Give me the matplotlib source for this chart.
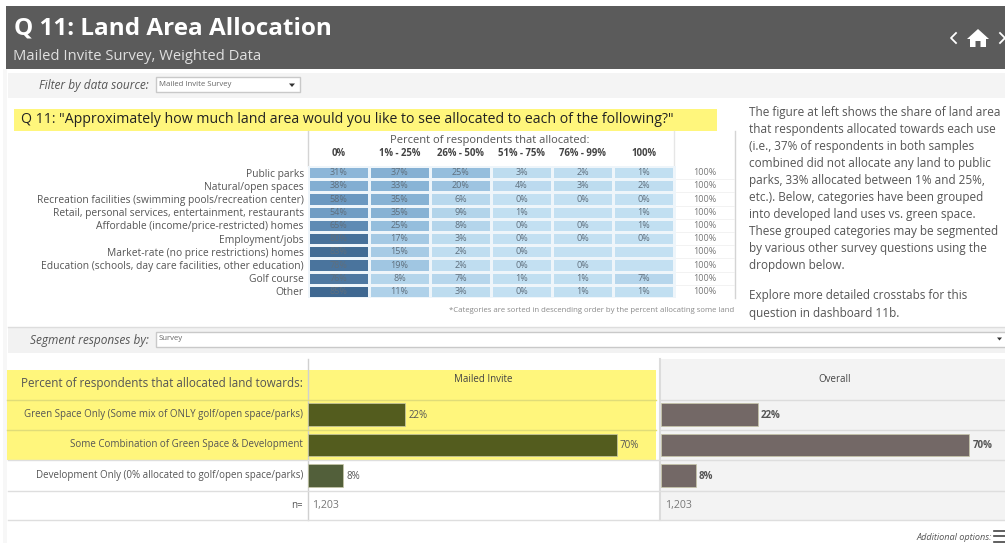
"""Q 11 land area allocation dashboard"""
import matplotlib
matplotlib.use("Agg")
import matplotlib.pyplot as plt
import numpy as np
from matplotlib.colors import LinearSegmentedColormap
from matplotlib.patches import Rectangle, Polygon

plt.rcParams["font.family"] = ["Open Sans", "DejaVu Sans"]

W, H = 1005, 543

# heatmap data
uses = [
    "Public parks",
    "Natural/open spaces",
    "Recreation facilities (swimming pools/recreation center)",
    "Retail, personal services, entertainment, restaurants",
    "Affordable (income/price-restricted) homes",
    "Employment/jobs",
    "Market-rate (no price restrictions) homes",
    "Education (schools, day care facilities, other education)",
    "Golf course",
    "Other",
]
bins = ["0%", "1% - 25%", "26% - 50%", "51% - 75%", "76% - 99%", "100%"]
pct_0 = [31, 38, 58, 54, 65, 80, 83, 78, 76, 85]
pct_1_25 = [37, 33, 35, 35, 25, 17, 15, 19, 8, 11]
pct_26_50 = [25, 20, 6, 9, 8, 3, 2, 2, 7, 3]
pct_51_75 = [3, 4, 0, 1, 0, 0, 0, 0, 1, 0]
pct_76_99 = [2, 3, 0, None, 0, 0, None, 0, 1, 1]
pct_100 = [1, 2, 0, 1, 1, 0, None, None, 7, 1]
totals = ["100%"] * 10

# bar data
groups = [
    "Green Space Only (Some mix of ONLY golf/open space/parks)",
    "Some Combination of Green Space & Development",
    "Development Only (0% allocated to golf/open space/parks)",
]
mailed = [22, 70, 8]
overall = [22, 70, 8]
mailed_n = "1,203"
overall_n = "1,203"

DARK = "#5b5b5b"
YELLOW = "#fff67c"
TEXT = "#555555"
RULE = "#e3e3e3"

fig = plt.figure(figsize=(W / 100, H / 100), dpi=100, facecolor="white")


def px_axes(x0, y0, x1, y1, **kw):
    # axes placed by pixel box, y measured from the top
    return fig.add_axes([x0 / W, 1 - y1 / H, (x1 - x0) / W, (y1 - y0) / H], **kw)


# page furniture
bg = px_axes(0, 0, W, H)
bg.set_xlim(0, W)
bg.set_ylim(H, 0)
bg.axis("off")

bg.add_patch(Rectangle((6, 6), W - 6, 63, color=DARK, lw=0))
bg.add_patch(Rectangle((3, 69), 4, H - 69, color="#f7f7f7", lw=0))
bg.add_patch(Rectangle((8, 73), W - 8, 25, color="#f4f4f4", lw=0))
bg.add_patch(Rectangle((8, 327), W - 8, 26, color="#f2f2f2", lw=0))
bg.plot([8, W], [327, 327], color="#dddddd", lw=1)
bg.text(14, 29, "Q 11: Land Area Allocation", color="white", fontsize=17.5,
        fontweight="bold", va="center")
bg.text(13, 56, "Mailed Invite Survey, Weighted Data", color="#e0e0e0", fontsize=10.6,
        va="center")

# nav icons
bg.plot([956, 951, 956], [33, 38, 43], color="white", lw=1.3)
bg.plot([1000, 1005], [33, 38], color="white", lw=1.3)
bg.plot([1000, 1005], [43, 38], color="white", lw=1.3)
bg.add_patch(Polygon([[967, 39], [978, 29], [989, 39], [986, 39], [986, 47], [980.5, 47],
                      [980.5, 41], [975.5, 41], [975.5, 47], [970, 47], [970, 39]],
                     color="white", lw=0))

# filter row
bg.text(149, 85.5, "Filter by data source:", fontsize=8.6, style="italic", color="#555555",
        ha="right", va="center")
bg.add_patch(Rectangle((155.5, 77), 144, 15, fc="white", ec="#c9c9c9", lw=1))
bg.text(159, 84.5, "Mailed Invite Survey", fontsize=5.6, color="#666666", va="center")
bg.add_patch(Polygon([[289, 83.5], [295, 83.5], [292, 87]], color="#333333", lw=0))

# question banner
bg.add_patch(Rectangle((14, 109), 703, 22, color=YELLOW, lw=0))
bg.text(21, 119.5, "Q 11: \"Approximately how much land area would you like to see allocated to each of the following?\"",
        fontsize=10.2, color="#222222", va="center")

# side note
note = ["The figure at left shows the share of land area",
        "that respondents allocated towards each use",
        "(i.e., 37% of respondents in both samples",
        "combined did not allocate any land to public",
        "parks, 33% allocated between 1% and 25%,",
        "etc.). Below, categories have been grouped",
        "into developed land uses vs. green space.",
        "These grouped categories may be segmented",
        "by various other survey questions using the",
        "dropdown below."]
for i, line in enumerate(note):
    bg.text(749, 112.5 + i * 17, line, fontsize=8.5, color=TEXT, va="center")
bg.text(749, 296, "Explore more detailed crosstabs for this", fontsize=8.5, color=TEXT, va="center")
bg.text(749, 313.5, "question in dashboard 11b.", fontsize=8.5, color=TEXT, va="center")

# table heading and rules
bg.text(490, 140, "Percent of respondents that allocated:", fontsize=8, color=TEXT,
        ha="center", va="center")
bg.plot([307.5, 307.5], [131, 166], color="#d4d4d4", lw=1)
bg.plot([673.5, 673.5], [131, 166], color="#e6e6e6", lw=1)
bg.plot([734.5, 734.5], [131, 298], color="#d4d4d4", lw=1)
bg.text(734, 311, "*Categories are sorted in descending order by the percent allocating some land",
        fontsize=5.6, color="#8a8a8a", ha="right", va="center")

# segment row
bg.text(149, 340.5, "Segment responses by:", fontsize=8.6, style="italic", color="#555555",
        ha="right", va="center")
bg.add_patch(Rectangle((155.5, 332), 860, 15, fc="white", ec="#c9c9c9", lw=1))
bg.text(159, 338.5, "Survey", fontsize=5.6, color="#666666", va="center")
bg.add_patch(Polygon([[997, 337.5], [1002, 337.5], [999.5, 340.5]], color="#333333", lw=0))

# lower table backgrounds
bg.add_patch(Rectangle((7, 370), 649, 90, color=YELLOW, lw=0))
bg.add_patch(Rectangle((660, 359), W - 660, 161, color="#f3f3f3", lw=0))
bg.plot([307.5, 307.5], [359, 520], color="#d0d0d0", lw=1)
bg.plot([659.5, 659.5], [359, 520], color="#dcdcdc", lw=1.5)
for y in [399.5, 429.5]:
    bg.plot([7, 656], [y, y], color="#e0dc78", lw=1)
    bg.plot([660, W], [y, y], color="#dcdcdc", lw=1)
for y in [460, 490.5, 520]:
    bg.plot([8, W], [y, y], color="#dedede", lw=1)

bg.text(303, 384, "Percent of respondents that allocated land towards:", fontsize=8.4,
        color=TEXT, ha="right", va="center")
bg.text(483, 379, "Mailed Invite", fontsize=7, color="#444444", ha="center", va="center")
bg.text(835, 379, "Overall", fontsize=7, color="#444444", ha="center", va="center")
bg.text(303, 505.5, "n=", fontsize=7, color=TEXT, ha="right", va="center")
bg.text(312, 505.5, mailed_n, fontsize=7.6, color="#777777", va="center")
bg.text(665, 505.5, overall_n, fontsize=7.6, color="#777777", va="center")

bg.text(992, 537, "Additional options:", fontsize=6.6, style="italic", color="#555555",
        ha="right", va="center")
for y in [530.5, 536, 541.5]:
    bg.plot([994, 1005], [y, y], color="#444444", lw=1.2)

# heatmap
cells = np.array([pct_0, pct_1_25, pct_26_50, pct_51_75, pct_76_99, pct_100], dtype=float).T
cmap = LinearSegmentedColormap.from_list("blues", ["#c3e0f2", "#8fb9da", "#6d9ac2", "#3f6891"])
cmap.set_bad("#c3e0f2")

hm = px_axes(308, 166, 735, 298)
hm.patch.set_alpha(0)
hm.pcolormesh(np.arange(7), np.arange(11), np.ma.masked_invalid(cells), cmap=cmap, vmin=0, vmax=85,
              edgecolors="#eef5fa", linewidth=0.8)
hm.set_xlim(0, 7)
hm.set_ylim(10, 0)
hm.set_xticks(np.arange(6) + 0.5, bins, fontsize=6.9, fontweight="bold", color="#444444")
hm.xaxis.tick_top()
hm.set_yticks(np.arange(10) + 0.5, uses, fontsize=7.4, color=TEXT)
hm.tick_params(length=0, pad=3)
hm.tick_params(axis="x", pad=5)
for s in hm.spines.values():
    s.set_visible(False)
for r in range(10):
    hm.axhline(r + 1, xmin=0, xmax=1, color="#f0f0f0", lw=0.6, zorder=0)
    for c in range(6):
        if not np.isnan(cells[r, c]):
            hm.text(c + 0.5, r + 0.5, f"{cells[r, c]:.0f}%", ha="center", va="center",
                    fontsize=6.5, color="#5f6f7d")
    hm.text(6.5, r + 0.5, totals[r], ha="center", va="center", fontsize=6.5, color="#777777")

# row labels in the lower table
y_pos = np.arange(3)
for i, g in enumerate(groups):
    bg.text(303, 414.5 + i * 30.4, g, fontsize=7, color=TEXT, ha="right", va="center")

# bars, same scale in both panes
bar_colors = ["#535c1e", "#535c1e", "#525f3a"]
a1 = px_axes(308, 399.5, 656, 490.5)
a2 = px_axes(660.5, 399.5, 1005, 490.5)
for ax, vals, cols, lab in [(a1, mailed, bar_colors, "#555555"),
                            (a2, overall, ["#736866"] * 3, "#555555")]:
    ax.patch.set_alpha(0)
    ax.barh(y_pos, vals, height=0.74, color=cols, edgecolor="#c8c8a8", linewidth=0.5)
    ax.set_ylim(2.5, -0.5)
    ax.set_xlim(0, 348 / 4.41 if ax is a1 else 344.5 / 4.41)
    ax.axis("off")
    for y, v in zip(y_pos, vals):
        ax.text(v + 0.7, y + 0.03, f"{v}%", fontsize=7, va="center", color=lab,
                fontweight="bold" if ax is a2 else "normal")

fig.savefig("out.png", dpi=100)
plt.close(fig)
